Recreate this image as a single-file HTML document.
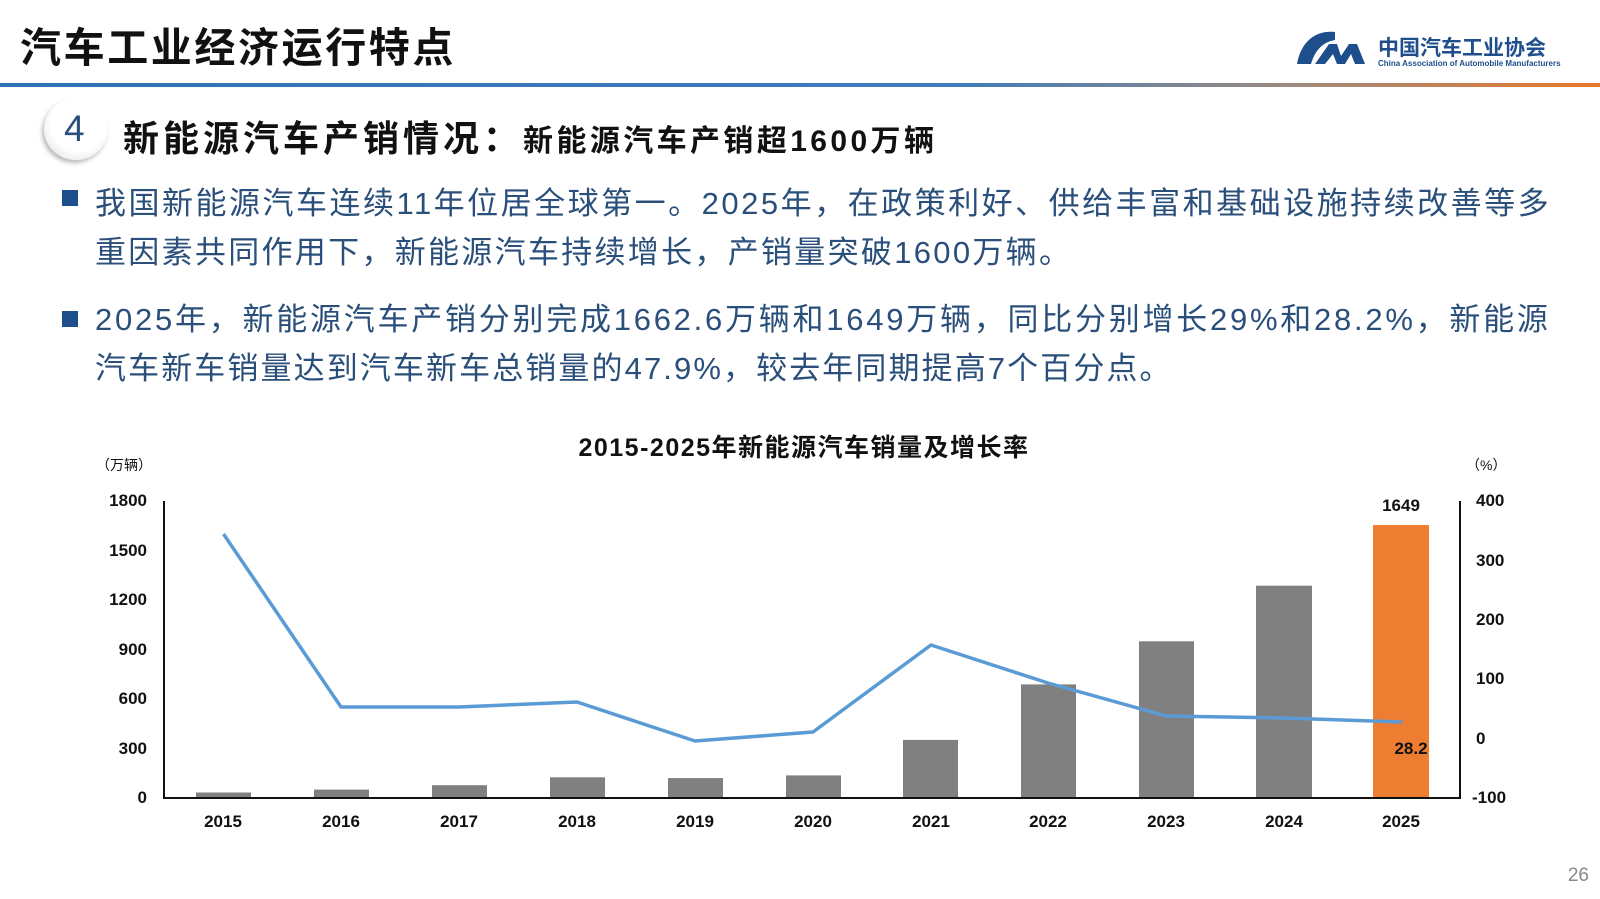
<!DOCTYPE html>
<html><head><meta charset="utf-8"><style>
body{margin:0;width:1600px;height:899px;background:#fff;overflow:hidden;position:relative;font-family:"Liberation Sans","Noto Sans CJK SC",sans-serif;}
.a{position:absolute;white-space:nowrap;}
</style></head><body>
<div class="a" style="left:20px;top:14px;font-size:41px;font-weight:bold;color:#111;letter-spacing:2.6px;">汽车工业经济运行特点</div>
<div class="a" style="left:0;top:83px;width:1600px;height:4px;background:linear-gradient(90deg,#2e73b5 0%,#3f7dbb 60%,#9a8a80 80%,#e8782a 100%);"></div>
<svg class="a" style="left:1295px;top:28px" width="80" height="44" viewBox="0 0 80 44">
<path d="M40 4 C20 2 6 14 2 36 L16 36 C20 22 28 14 40 12 Z" fill="#1f4e8c"/>
<path d="M20 36 L34 16 L42 16 L46 28 L54 16 L62 16 L70 36 L60 36 L56 26 L50 36 L42 36 L38 26 L30 36 Z" fill="#1f4e8c"/>
</svg>
<div class="a" style="left:1378px;top:32px;font-size:21px;font-weight:bold;color:#1f4e8c;">中国汽车工业协会</div>
<div class="a" style="left:1378px;top:59px;font-size:8px;font-weight:bold;color:#1f4e8c;">China Association of Automobile Manufacturers</div>
<div class="a" style="left:44px;top:98px;width:64px;height:62px;border-radius:50%;background:radial-gradient(circle at 55% 40%,#fff 55%,#d8d8d8 100%);box-shadow:-2px 3px 4px #bbb;"></div>
<div class="a" style="left:64px;top:108px;font-size:37px;color:#2a4f7a;">4</div>
<div class="a" style="left:123px;top:110px;font-size:36px;font-weight:bold;color:#111;letter-spacing:4px;">新能源汽车产销情况：<span style="font-size:30px;letter-spacing:3.4px">新能源汽车产销超1600万辆</span></div>
<div class="a" style="left:62px;top:190px;width:16px;height:16px;background:#1f4e8c;"></div>
<div class="a" style="left:62px;top:311px;width:16px;height:16px;background:#1f4e8c;"></div>
<div class="a" style="left:95px;top:179px;font-size:31px;line-height:49px;color:#2a4f7a;"><span style="letter-spacing:2.5px">我国新能源汽车连续11年位居全球第一。2025年，在政策利好、供给丰富和基础设施持续改善等多</span><br><span style="letter-spacing:2.3px">重因素共同作用下，新能源汽车持续增长，产销量突破1600万辆。</span></div>
<div class="a" style="left:95px;top:295px;font-size:31px;line-height:49px;color:#2a4f7a;"><span style="letter-spacing:2.75px">2025年，新能源汽车产销分别完成1662.6万辆和1649万辆，同比分别增长29%和28.2%，新能源</span><br><span style="letter-spacing:2.1px">汽车新车销量达到汽车新车总销量的47.9%，较去年同期提高7个百分点。</span></div>
<svg class="a" style="left:0;top:0" width="1600" height="899">
<g font-family="Liberation Sans,Noto Sans CJK SC,sans-serif" font-weight="bold" fill="#111">
<text x="804" y="456" font-size="25" text-anchor="middle" letter-spacing="1.5">2015-2025年新能源汽车销量及增长率</text>
<text x="96" y="470" font-size="14" font-weight="normal">（万辆）</text>
<text x="1466" y="470" font-size="14" font-weight="normal">（%）</text>
<g font-size="17" text-anchor="end">
<text x="147" y="506">1800</text><text x="147" y="556">1500</text><text x="147" y="605">1200</text><text x="147" y="655">900</text><text x="147" y="704">600</text><text x="147" y="754">300</text><text x="147" y="803">0</text>
</g>
<g font-size="17">
<text x="1476" y="506">400</text><text x="1476" y="566">300</text><text x="1476" y="625">200</text><text x="1476" y="684">100</text><text x="1476" y="744">0</text><text x="1472" y="803">-100</text>
</g>
<g fill="#808080">
<rect x="196" y="792.5" width="55" height="5.5"/>
<rect x="314" y="789.6" width="55" height="8.4"/>
<rect x="432" y="785.2" width="55" height="12.8"/>
<rect x="550" y="777.3" width="55" height="20.7"/>
<rect x="668" y="778.1" width="55" height="19.9"/>
<rect x="786" y="775.4" width="55" height="22.6"/>
<rect x="903" y="739.9" width="55" height="58.1"/>
<rect x="1021" y="684.4" width="55" height="113.6"/>
<rect x="1139" y="641.3" width="55" height="156.7"/>
<rect x="1256" y="585.7" width="56" height="212.3"/>
</g>
<rect x="1373" y="525" width="56" height="273" fill="#ed7d31"/>
<path d="M164 501 V798 H1460 V501" fill="none" stroke="#111" stroke-width="2"/>
<polyline fill="none" stroke="#5b9bd5" stroke-width="3.5" stroke-linejoin="round" points="223.5,534 341,707 459,707 577,702 695,741 813,732 931,645 1048,683 1166,716 1284,718 1402,722"/>
<text x="1401" y="511" font-size="17" text-anchor="middle">1649</text>
<text x="1411" y="754" font-size="17" text-anchor="middle">28.2</text>
<g font-size="17" text-anchor="middle">
<text x="223" y="827">2015</text><text x="341" y="827">2016</text><text x="459" y="827">2017</text><text x="577" y="827">2018</text><text x="695" y="827">2019</text><text x="813" y="827">2020</text><text x="931" y="827">2021</text><text x="1048" y="827">2022</text><text x="1166" y="827">2023</text><text x="1284" y="827">2024</text><text x="1401" y="827">2025</text>
</g>
</g>
<text x="1589" y="881" font-size="19" fill="#888" text-anchor="end" font-family="Liberation Sans,sans-serif">26</text>
</svg>
</body></html>
